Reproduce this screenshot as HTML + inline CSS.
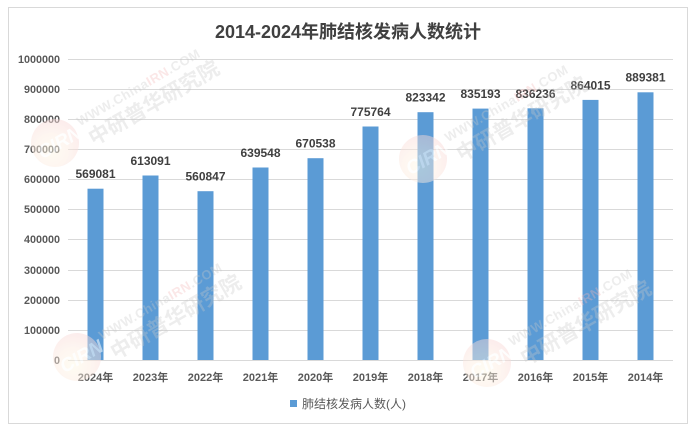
<!DOCTYPE html>
<html><head><meta charset="utf-8"><style>
html,body{margin:0;padding:0;background:#fff;}
svg{display:block;}
text{font-family:"Liberation Sans","Noto Sans CJK SC",sans-serif;}
</style></head><body>
<svg width="696" height="431" viewBox="0 0 696 431" xmlns="http://www.w3.org/2000/svg">
<defs>
<radialGradient id="lg" cx="35%" cy="60%" r="70%">
<stop offset="0" stop-color="#fdf8e4"/>
<stop offset="0.5" stop-color="#fcebe0"/>
<stop offset="1" stop-color="#f8d6d6"/>
</radialGradient>
<g id="wm">
<circle cx="0" cy="0" r="24" fill="url(#lg)" opacity="0.8"/>
<text x="-19" y="8" font-size="19" font-weight="bold" font-style="italic" fill="#ffffff" opacity="0.9">CIRN</text>
<text x="30" y="-2" font-size="13" font-weight="bold" fill="#c8c8c8" opacity="0.55" letter-spacing="0.5">WWW.China<tspan fill="#f2b8b8">IRN</tspan>.COM</text>
<text x="32" y="22" font-size="21" font-weight="bold" fill="#c8c8c8" opacity="0.55">中研普华研究院</text>
</g>
</defs>
<rect x="0" y="0" width="696" height="431" fill="#fff"/>
<rect x="8.5" y="7.5" width="679" height="416" fill="#fff" stroke="#d9d9d9" stroke-width="1"/>
<text x="348" y="38" text-anchor="middle" font-size="18" font-weight="bold" fill="#404040">2014-2024年肺结核发病人数统计</text>
<g stroke="#d9d9d9" stroke-width="1">
<line x1="68" y1="59.5" x2="673" y2="59.5"/>
<line x1="68" y1="89.5" x2="673" y2="89.5"/>
<line x1="68" y1="119.5" x2="673" y2="119.5"/>
<line x1="68" y1="149.5" x2="673" y2="149.5"/>
<line x1="68" y1="179.5" x2="673" y2="179.5"/>
<line x1="68" y1="209.5" x2="673" y2="209.5"/>
<line x1="68" y1="239.5" x2="673" y2="239.5"/>
<line x1="68" y1="270.5" x2="673" y2="270.5"/>
<line x1="68" y1="300.5" x2="673" y2="300.5"/>
<line x1="68" y1="330.5" x2="673" y2="330.5"/>
<line x1="68" y1="360.5" x2="673" y2="360.5"/>
</g>
<g font-size="10.8" font-weight="bold" fill="#595959" text-anchor="end">
<text x="60" y="63">1000000</text>
<text x="60" y="93">900000</text>
<text x="60" y="123">800000</text>
<text x="60" y="153">700000</text>
<text x="60" y="183">600000</text>
<text x="60" y="213">500000</text>
<text x="60" y="243">400000</text>
<text x="60" y="274">300000</text>
<text x="60" y="304">200000</text>
<text x="60" y="334">100000</text>
<text x="60" y="364">0</text>
</g>
<g fill="#5b9bd5">
<rect x="87.5" y="188.7" width="16" height="171.3"/>
<rect x="142.5" y="175.5" width="16" height="184.5"/>
<rect x="197.5" y="191.2" width="16" height="168.8"/>
<rect x="252.5" y="167.5" width="16" height="192.5"/>
<rect x="307.5" y="158.2" width="16" height="201.8"/>
<rect x="362.5" y="126.5" width="16" height="233.5"/>
<rect x="417.5" y="112.2" width="16" height="247.8"/>
<rect x="472.5" y="108.6" width="16" height="251.4"/>
<rect x="527.5" y="108.3" width="16" height="251.7"/>
<rect x="582.5" y="99.9" width="16" height="260.1"/>
<rect x="637.5" y="92.3" width="16" height="267.7"/>
</g>
<g font-size="12" font-weight="bold" fill="#404040" text-anchor="middle">
<text x="95.5" y="178">569081</text>
<text x="150.5" y="165">613091</text>
<text x="205.5" y="180.5">560847</text>
<text x="260.5" y="157">639548</text>
<text x="315.5" y="147.5">670538</text>
<text x="370.5" y="116">775764</text>
<text x="425.5" y="101.5">823342</text>
<text x="480.5" y="98">835193</text>
<text x="535.5" y="98">836236</text>
<text x="590.5" y="89.5">864015</text>
<text x="645.5" y="81.5">889381</text>
</g>
<g font-size="11" font-weight="bold" fill="#595959" text-anchor="middle">
<text x="95.5" y="381">2024年</text>
<text x="150.5" y="381">2023年</text>
<text x="205.5" y="381">2022年</text>
<text x="260.5" y="381">2021年</text>
<text x="315.5" y="381">2020年</text>
<text x="370.5" y="381">2019年</text>
<text x="425.5" y="381">2018年</text>
<text x="480.5" y="381">2017年</text>
<text x="535.5" y="381">2016年</text>
<text x="590.5" y="381">2015年</text>
<text x="645.5" y="381">2014年</text>
</g>
<rect x="290" y="400" width="7" height="7" fill="#5b9bd5"/>
<text x="302" y="408" font-size="12" fill="#595959">肺结核发病人数(人)</text>
<g opacity="0.6">
<use href="#wm" transform="translate(55,143) rotate(-30)"/>
<use href="#wm" transform="translate(423,159) rotate(-30)"/>
<use href="#wm" transform="translate(77,357) rotate(-30)"/>
<use href="#wm" transform="translate(487,363) rotate(-30)"/>
</g>
</svg>
</body></html>
